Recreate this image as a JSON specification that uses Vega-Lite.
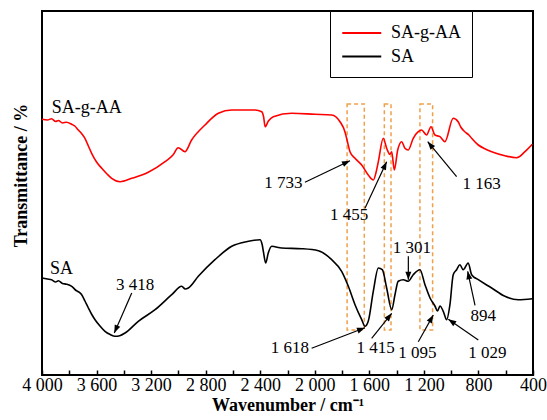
{
  "$schema": "https://vega.github.io/schema/vega-lite/v6.json",
  "width": 491,
  "height": 364,
  "autosize": "none",
  "padding": {"left": 42, "top": 11, "right": 14, "bottom": 45},
  "background": "white",
  "config": {
    "font": "Liberation Serif",
    "view": {"stroke": "black", "strokeWidth": 2},
    "axis": {"grid": false}
  },
  "datasets": {
    "spectra": [
      {"s":"SA-g-AA","x":4000,"y":255.7},{"s":"SA-g-AA","x":3960,"y":255},{"s":"SA-g-AA","x":3930,"y":256.3},{"s":"SA-g-AA","x":3900,"y":253.5},{"s":"SA-g-AA","x":3880,"y":254.5},{"s":"SA-g-AA","x":3850,"y":252},{"s":"SA-g-AA","x":3820,"y":252.8},{"s":"SA-g-AA","x":3782,"y":250.7},{"s":"SA-g-AA","x":3760,"y":249},{"s":"SA-g-AA","x":3734,"y":245},{"s":"SA-g-AA","x":3710,"y":241.5},{"s":"SA-g-AA","x":3685,"y":236.7},{"s":"SA-g-AA","x":3660,"y":229},{"s":"SA-g-AA","x":3636,"y":221.7},{"s":"SA-g-AA","x":3600,"y":213},{"s":"SA-g-AA","x":3562,"y":206.7},{"s":"SA-g-AA","x":3520,"y":200.5},{"s":"SA-g-AA","x":3489,"y":196.7},{"s":"SA-g-AA","x":3428,"y":193.3},{"s":"SA-g-AA","x":3342,"y":196.7},{"s":"SA-g-AA","x":3221,"y":202.7},{"s":"SA-g-AA","x":3098,"y":213.3},{"s":"SA-g-AA","x":3040,"y":220},{"s":"SA-g-AA","x":3001,"y":227.3},{"s":"SA-g-AA","x":2952,"y":223.3},{"s":"SA-g-AA","x":2903,"y":235},{"s":"SA-g-AA","x":2805,"y":250},{"s":"SA-g-AA","x":2707,"y":261.7},{"s":"SA-g-AA","x":2609,"y":265},{"s":"SA-g-AA","x":2438,"y":265},{"s":"SA-g-AA","x":2389,"y":263.3},{"s":"SA-g-AA","x":2375,"y":258},{"s":"SA-g-AA","x":2364,"y":248.3},{"s":"SA-g-AA","x":2340,"y":254},{"s":"SA-g-AA","x":2304,"y":258.3},{"s":"SA-g-AA","x":2169,"y":261.7},{"s":"SA-g-AA","x":1999,"y":260.7},{"s":"SA-g-AA","x":1876,"y":260},{"s":"SA-g-AA","x":1815,"y":253.3},{"s":"SA-g-AA","x":1779,"y":243.3},{"s":"SA-g-AA","x":1760,"y":233},{"s":"SA-g-AA","x":1742,"y":223.3},{"s":"SA-g-AA","x":1705,"y":216.7},{"s":"SA-g-AA","x":1656,"y":210},{"s":"SA-g-AA","x":1608,"y":200},{"s":"SA-g-AA","x":1571,"y":195},{"s":"SA-g-AA","x":1550,"y":203},{"s":"SA-g-AA","x":1534,"y":213.3},{"s":"SA-g-AA","x":1498,"y":236.7},{"s":"SA-g-AA","x":1473,"y":226.7},{"s":"SA-g-AA","x":1449,"y":220.7},{"s":"SA-g-AA","x":1436,"y":223.3},{"s":"SA-g-AA","x":1417,"y":205},{"s":"SA-g-AA","x":1392,"y":225},{"s":"SA-g-AA","x":1363,"y":233.3},{"s":"SA-g-AA","x":1339,"y":226.7},{"s":"SA-g-AA","x":1315,"y":225},{"s":"SA-g-AA","x":1278,"y":236.7},{"s":"SA-g-AA","x":1241,"y":243.3},{"s":"SA-g-AA","x":1217,"y":245},{"s":"SA-g-AA","x":1180,"y":240},{"s":"SA-g-AA","x":1148,"y":248.3},{"s":"SA-g-AA","x":1119,"y":240},{"s":"SA-g-AA","x":1082,"y":238.3},{"s":"SA-g-AA","x":1046,"y":233.3},{"s":"SA-g-AA","x":985,"y":256.7},{"s":"SA-g-AA","x":949,"y":253.3},{"s":"SA-g-AA","x":930,"y":248},{"s":"SA-g-AA","x":900,"y":243.3},{"s":"SA-g-AA","x":870,"y":240},{"s":"SA-g-AA","x":850,"y":236.7},{"s":"SA-g-AA","x":801,"y":230},{"s":"SA-g-AA","x":750,"y":226},{"s":"SA-g-AA","x":703,"y":223.3},{"s":"SA-g-AA","x":606,"y":219.3},{"s":"SA-g-AA","x":520,"y":217.3},{"s":"SA-g-AA","x":459,"y":223.3},{"s":"SA-g-AA","x":405,"y":230.7},
      {"s":"SA","x":4000,"y":97},{"s":"SA","x":3960,"y":96},{"s":"SA","x":3930,"y":95.3},{"s":"SA","x":3900,"y":93},{"s":"SA","x":3880,"y":94.3},{"s":"SA","x":3850,"y":91.5},{"s":"SA","x":3820,"y":90.8},{"s":"SA","x":3782,"y":88.7},{"s":"SA","x":3750,"y":84.5},{"s":"SA","x":3730,"y":83},{"s":"SA","x":3709,"y":80.3},{"s":"SA","x":3685,"y":74},{"s":"SA","x":3660,"y":67},{"s":"SA","x":3635,"y":60.5},{"s":"SA","x":3611,"y":55.3},{"s":"SA","x":3575,"y":49},{"s":"SA","x":3538,"y":43.7},{"s":"SA","x":3500,"y":40.5},{"s":"SA","x":3465,"y":38.7},{"s":"SA","x":3430,"y":39.3},{"s":"SA","x":3391,"y":42},{"s":"SA","x":3294,"y":53.7},{"s":"SA","x":3171,"y":65.3},{"s":"SA","x":3049,"y":80.3},{"s":"SA","x":2976,"y":88.7},{"s":"SA","x":2950,"y":86},{"s":"SA","x":2927,"y":87},{"s":"SA","x":2854,"y":98.7},{"s":"SA","x":2732,"y":115.3},{"s":"SA","x":2609,"y":128.7},{"s":"SA","x":2487,"y":133.7},{"s":"SA","x":2402,"y":135.3},{"s":"SA","x":2385,"y":130},{"s":"SA","x":2377,"y":123.7},{"s":"SA","x":2360,"y":112},{"s":"SA","x":2341,"y":122},{"s":"SA","x":2316,"y":128.7},{"s":"SA","x":2243,"y":127},{"s":"SA","x":2096,"y":126.3},{"s":"SA","x":1974,"y":124.3},{"s":"SA","x":1876,"y":115.3},{"s":"SA","x":1803,"y":103.7},{"s":"SA","x":1754,"y":88.7},{"s":"SA","x":1705,"y":70.3},{"s":"SA","x":1656,"y":55.3},{"s":"SA","x":1632,"y":48.7},{"s":"SA","x":1608,"y":53.7},{"s":"SA","x":1571,"y":83.7},{"s":"SA","x":1534,"y":107},{"s":"SA","x":1505,"y":105.3},{"s":"SA","x":1473,"y":87},{"s":"SA","x":1436,"y":65.3},{"s":"SA","x":1412,"y":80.3},{"s":"SA","x":1388,"y":93.7},{"s":"SA","x":1351,"y":95.3},{"s":"SA","x":1315,"y":93.7},{"s":"SA","x":1278,"y":100.3},{"s":"SA","x":1229,"y":105.3},{"s":"SA","x":1192,"y":90.3},{"s":"SA","x":1155,"y":77},{"s":"SA","x":1119,"y":69},{"s":"SA","x":1100,"y":64},{"s":"SA","x":1082,"y":69},{"s":"SA","x":1058,"y":63.7},{"s":"SA","x":1033,"y":55.3},{"s":"SA","x":1009,"y":70.3},{"s":"SA","x":985,"y":100.3},{"s":"SA","x":960,"y":105.3},{"s":"SA","x":936,"y":110.3},{"s":"SA","x":912,"y":105.3},{"s":"SA","x":875,"y":112},{"s":"SA","x":850,"y":100.3},{"s":"SA","x":801,"y":95.3},{"s":"SA","x":703,"y":87},{"s":"SA","x":606,"y":78.7},{"s":"SA","x":508,"y":75.3},{"s":"SA","x":405,"y":76.3}
    ],
    "boxes": [
      {"x":1763,"x2":1637,"y":271,"y2":45},
      {"x":1490,"x2":1441,"y":271,"y2":45},
      {"x":1229,"x2":1136,"y":271,"y2":45}
    ],
    "notes": [
      {"label":"1 733","x":2231,"y":192.5},
      {"label":"1 455","x":1748,"y":160},
      {"label":"1 163","x":776,"y":191},
      {"label":"3 418","x":3318,"y":90.3},
      {"label":"1 618","x":2182,"y":26.7},
      {"label":"1 415","x":1553,"y":27.5},
      {"label":"1 301","x":1289,"y":127},
      {"label":"1 095","x":1247,"y":22.2},
      {"label":"1 029","x":734,"y":22.5},
      {"label":"894","x":764,"y":58.7}
    ],
    "arrows": [
      {"x":1742,"y":214.3,"x2":2072,"y2":192.7},
      {"x":1473,"y":213.3,"x2":1632,"y2":166.7},
      {"x":1172,"y":233.3,"x2":960,"y2":198.3},
      {"x":3470,"y":42,"x2":3342,"y2":82},
      {"x":1632,"y":47.3,"x2":2023,"y2":26.7},
      {"x":1436,"y":61.7,"x2":1583,"y2":36.7},
      {"x":1314,"y":95.3,"x2":1314,"y2":118.7},
      {"x":1131,"y":60,"x2":1241,"y2":33.3},
      {"x":1021,"y":55.7,"x2":801,"y2":35},
      {"x":879,"y":103.7,"x2":825,"y2":69.7}
    ],
    "names": [
      {"label":"SA-g-AA","x":3929,"y":267.5},
      {"label":"SA","x":3941,"y":106.2}
    ]
  },
  "encoding": {
    "x": {
      "field": "x", "type": "quantitative",
      "scale": {"domain": [400, 4000], "reverse": true, "nice": false, "zero": false},
      "axis": {
        "title": "Wavenumber / cm⁻¹",
        "titleFontSize": 18, "titleFontWeight": "bold", "titleFont": "Liberation Serif", "titleColor": "black",
        "titlePadding": 2,
        "values": [4000,3800,3600,3400,3200,3000,2800,2600,2400,2200,2000,1800,1600,1400,1200,1000,800,600,400],
        "labelExpr": "datum.value % 400 == 0 ? replace(format(datum.value, ','), ',', ' ') : ''",
        "labelFontSize": 18, "labelFont": "Liberation Serif", "labelColor": "black",
        "labelOverlap": false, "labelBound": false, "labelFlush": false,
        "labelPadding": 6,
        "tickSize": -5, "tickColor": "black", "tickWidth": 1.5,
        "domain": false
      }
    },
    "y": {
      "field": "y", "type": "quantitative",
      "scale": {"domain": [0, 364], "nice": false, "zero": false},
      "axis": {
        "title": "Transmittance / %",
        "titleFontSize": 18, "titleFontWeight": "bold", "titleFont": "Liberation Serif", "titleColor": "black",
        "titleX": -21, "titleY": 164, "titleBaseline": "middle", "titleAngle": 270,
        "labels": false, "ticks": false, "domain": false
      }
    }
  },
  "layer": [
    {
      "data": {"name": "boxes"},
      "mark": {"type": "rect", "fill": "white", "fillOpacity": 0, "stroke": "#F0A04B", "strokeWidth": 1.5, "strokeDash": [4, 3]},
      "encoding": {
        "x2": {"field": "x2"},
        "y2": {"field": "y2"}
      }
    },
    {
      "data": {"name": "spectra"},
      "mark": {"type": "line", "strokeWidth": 1.6, "interpolate": "monotone"},
      "encoding": {
        "color": {
          "field": "s", "type": "nominal",
          "scale": {"domain": ["SA-g-AA", "SA"], "range": ["#FF0000", "#000000"]},
          "legend": {
            "title": null, "orient": "none", "legendX": 288, "legendY": 0,
            "strokeColor": "black", "fillColor": "white", "padding": 11,
            "symbolType": "M-1,0H3", "symbolSize": 380, "symbolStrokeWidth": 2,
            "labelFontSize": 18, "labelFont": "Liberation Serif", "labelColor": "black", "labelOffset": 28,
            "rowPadding": 3.5
          }
        }
      }
    },
    {
      "data": {"name": "arrows"},
      "mark": {"type": "rule", "color": "black", "strokeWidth": 1.2},
      "encoding": {
        "x2": {"field": "x2"},
        "y2": {"field": "y2"}
      }
    },
    {
      "data": {"name": "arrows"},
      "transform": [
        {"calculate": "atan2(datum.y2 - datum.y, (datum.x2 - datum.x) * 0.13639) * 180 / PI", "as": "ang"}
      ],
      "mark": {"type": "point", "shape": "M0,0L-2,-0.75L-2,0.75Z", "filled": true, "color": "black", "size": 64, "opacity": 1},
      "encoding": {
        "angle": {"field": "ang", "type": "quantitative", "scale": null}
      }
    },
    {
      "data": {"name": "notes"},
      "mark": {"type": "text", "fontSize": 17, "font": "Liberation Serif", "color": "black", "align": "center", "baseline": "middle"},
      "encoding": {"text": {"field": "label"}}
    },
    {
      "data": {"name": "names"},
      "mark": {"type": "text", "fontSize": 18, "font": "Liberation Serif", "color": "black", "align": "left", "baseline": "middle"},
      "encoding": {"text": {"field": "label"}}
    }
  ]
}
